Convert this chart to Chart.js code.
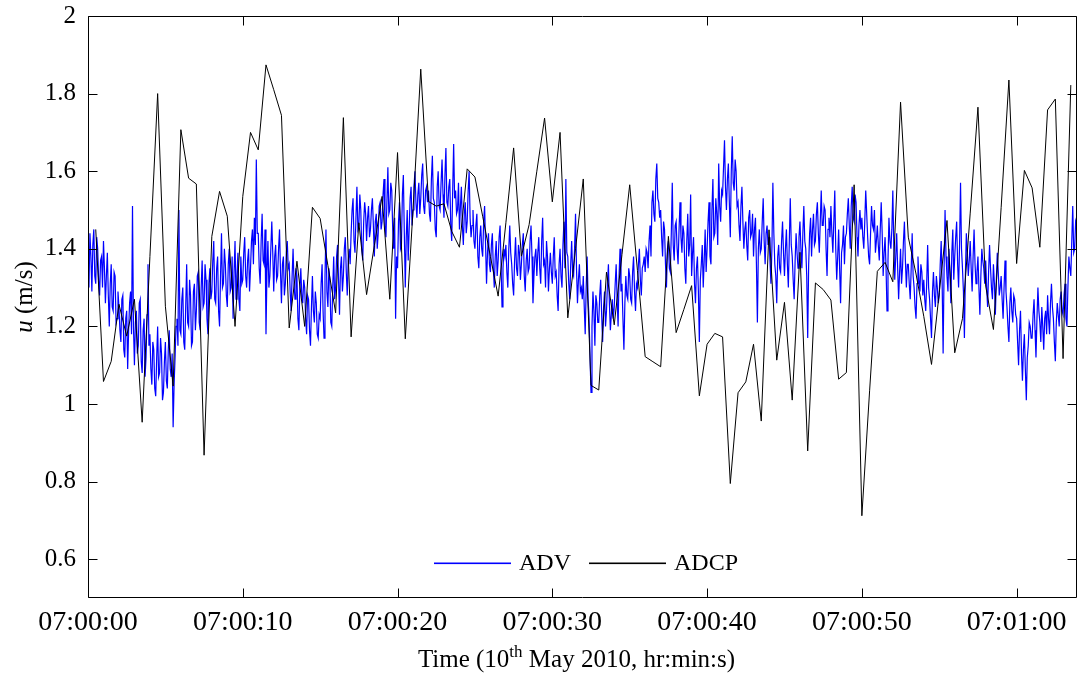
<!DOCTYPE html>
<html>
<head>
<meta charset="utf-8">
<script src="https://cdn.jsdelivr.net/npm/chart.js@4"></script>
<style>
  html, body { margin: 0; padding: 0; background: #fff; }
  canvas { display: block; }
</style>
</head>
<body>
<canvas id="uChart" width="1077" height="678"></canvas>
<script>
"use strict";

// ADCP, 2 Hz, first sample at 07:00:00.5
const adcpStart = 0.5;
const adcpStep = 0.5;
const adcpU = [
  1.45, 1.058, 1.11, 1.257, 1.175, 1.27, 0.953, 1.38, 1.80, 1.252,
  1.046, 1.707, 1.582, 1.567, 0.868, 1.432, 1.548, 1.484, 1.20, 1.535,
  1.70, 1.655, 1.874, 1.81, 1.744, 1.196, 1.368, 1.20, 1.507, 1.478,
  1.357, 1.235, 1.738, 1.173, 1.467, 1.282, 1.408, 1.535, 1.27, 1.648,
  1.168, 1.50, 1.863, 1.522, 1.51, 1.516, 1.445, 1.404, 1.606, 1.585,
  1.484, 1.38, 1.278, 1.467, 1.66, 1.381, 1.462, 1.60, 1.737, 1.521,
  1.70, 1.222, 1.40, 1.58, 1.048, 1.036, 1.34, 1.204, 1.385, 1.565,
  1.344, 1.122, 1.109, 1.096, 1.432, 1.184, 1.244, 1.305, 1.021, 1.154,
  1.182, 1.173, 0.795, 1.029, 1.057, 1.154, 0.956, 1.449, 1.113, 1.262,
  1.01, 1.391, 0.879, 1.312, 1.295, 1.268, 1.064, 1.081, 1.565, 0.712,
  1.034, 1.342, 1.365, 1.315, 1.778, 1.43, 1.335, 1.226, 1.102, 1.287,
  1.473, 1.132, 1.22, 1.492, 1.765, 1.304, 1.192, 1.507, 1.835, 1.362,
  1.602, 1.557, 1.404, 1.758, 1.786, 1.117, 1.822
];

// ADV, 16 values per second (one row per second)
const advStep = 0.0625;
const advU = [
  1.35,1.30,1.44,1.38,1.29,1.41,1.45,1.33,1.31,1.43,1.40,1.32,1.28,1.37,1.38,1.30,
  1.42,1.35,1.26,1.33,1.39,1.28,1.20,1.31,1.36,1.25,1.24,1.34,1.33,1.21,1.22,1.29,
  1.25,1.19,1.16,1.27,1.28,1.14,1.12,1.22,1.24,1.09,1.19,1.26,1.29,1.18,1.51,1.20,
  1.10,1.21,1.24,1.13,1.15,1.26,1.27,1.11,1.08,1.19,1.22,1.07,1.12,1.23,1.36,1.15,
  1.18,1.09,1.05,1.16,1.14,1.04,1.02,1.12,1.20,1.07,1.08,1.17,1.13,1.01,1.03,1.11,
  1.16,1.06,1.04,1.14,1.19,1.09,1.07,1.13,0.94,1.05,1.12,1.20,1.22,1.15,1.50,1.19,
  1.18,1.27,1.30,1.16,1.14,1.25,1.36,1.21,1.20,1.32,1.28,1.15,1.16,1.29,1.31,1.19,
  1.24,1.33,1.34,1.21,1.19,1.30,1.37,1.25,1.26,1.36,1.32,1.22,1.18,1.31,1.35,1.27,
  1.29,1.37,1.42,1.27,1.26,1.35,1.38,1.24,1.20,1.33,1.44,1.30,1.31,1.40,1.36,1.28,
  1.25,1.36,1.40,1.29,1.30,1.38,1.22,1.34,1.42,1.27,1.33,1.39,1.27,1.24,1.38,1.31,
  1.32,1.39,1.43,1.33,1.30,1.37,1.40,1.29,1.35,1.42,1.45,1.36,1.48,1.41,1.63,1.44,
  1.44,1.35,1.31,1.42,1.49,1.37,1.36,1.45,1.18,1.34,1.42,1.30,1.33,1.40,1.47,1.39,
  1.29,1.38,1.41,1.32,1.33,1.40,1.45,1.34,1.26,1.36,1.38,1.28,1.31,1.39,1.42,1.35,
  1.36,1.29,1.24,1.33,1.40,1.31,1.27,1.35,1.33,1.22,1.19,1.30,1.35,1.28,1.26,1.32,
  1.30,1.22,1.18,1.28,1.27,1.19,1.15,1.25,1.33,1.24,1.21,1.29,1.26,1.18,1.17,1.23,
  1.22,1.31,1.36,1.24,1.17,1.33,1.45,1.29,1.25,1.35,1.32,1.21,1.20,1.30,1.38,1.27,
  1.30,1.38,1.41,1.32,1.23,1.35,1.38,1.29,1.33,1.40,1.43,1.34,1.28,1.37,1.40,1.36,
  1.44,1.50,1.53,1.42,1.39,1.48,1.56,1.45,1.46,1.54,1.50,1.40,1.37,1.47,1.52,1.49,
  1.42,1.48,1.51,1.43,1.45,1.50,1.53,1.46,1.38,1.47,1.49,1.40,1.44,1.51,1.52,1.45,
  1.47,1.54,1.58,1.46,1.43,1.52,1.61,1.49,1.50,1.57,1.55,1.45,1.40,1.48,1.22,1.38,
  1.35,1.47,1.52,1.40,1.41,1.54,1.59,1.44,1.30,1.43,1.50,1.37,1.45,1.53,1.56,1.46,
  1.50,1.56,1.60,1.52,1.48,1.54,1.57,1.49,1.53,1.59,1.62,1.51,1.49,1.55,1.56,1.52,
  1.55,1.49,1.47,1.58,1.64,1.53,1.52,1.45,1.43,1.56,1.60,1.51,1.50,1.57,1.63,1.54,
  1.48,1.59,1.66,1.52,1.51,1.56,1.58,1.46,1.42,1.55,1.67,1.53,1.55,1.49,1.50,1.57,
  1.45,1.51,1.56,1.46,1.41,1.49,1.52,1.44,1.47,1.55,1.60,1.48,1.43,1.46,1.50,1.42,
  1.40,1.46,1.49,1.38,1.35,1.43,1.46,1.40,1.38,1.47,1.51,1.41,1.31,1.39,1.44,1.36,
  1.34,1.41,1.44,1.35,1.30,1.38,1.42,1.33,1.37,1.43,1.46,1.36,1.25,1.35,1.40,1.38,
  1.41,1.34,1.30,1.40,1.46,1.39,1.36,1.31,1.28,1.37,1.43,1.35,1.33,1.41,1.39,1.32,
  1.36,1.41,1.44,1.33,1.29,1.37,1.40,1.34,1.35,1.42,1.46,1.38,1.26,1.33,1.38,1.40,
  1.33,1.39,1.43,1.35,1.31,1.42,1.48,1.36,1.37,1.30,1.42,1.38,1.29,1.35,1.39,1.34,
  1.31,1.38,1.43,1.33,1.34,1.28,1.24,1.36,1.40,1.33,1.30,1.41,1.47,1.35,1.58,1.39,
  1.38,1.31,1.27,1.36,1.42,1.34,1.33,1.40,1.49,1.35,1.26,1.32,1.36,1.29,1.30,1.27,
  1.33,1.25,1.18,1.30,1.38,1.27,1.22,1.12,1.03,1.20,1.29,1.24,1.15,1.28,1.26,1.21,
  1.21,1.28,1.32,1.23,1.16,1.25,1.29,1.20,1.24,1.31,1.36,1.26,1.19,1.23,1.27,1.22,
  1.25,1.31,1.36,1.27,1.20,1.33,1.40,1.29,1.31,1.22,1.14,1.26,1.33,1.28,1.27,1.35,
  1.33,1.27,1.26,1.34,1.38,1.29,1.24,1.31,1.30,1.36,1.40,1.32,1.28,1.35,1.36,1.38,
  1.34,1.40,1.39,1.35,1.42,1.46,1.38,1.52,1.55,1.49,1.47,1.58,1.62,1.53,1.52,1.48,
  1.50,1.43,1.38,1.47,1.45,1.36,1.30,1.40,1.42,1.35,1.34,1.44,1.57,1.41,1.37,1.46,
  1.47,1.40,1.36,1.45,1.52,1.43,1.39,1.46,1.44,1.35,1.31,1.42,1.49,1.38,1.41,1.54,
  1.33,1.39,1.43,1.31,1.26,1.35,1.38,1.29,1.16,1.32,1.36,1.41,1.30,1.37,1.45,1.34,
  1.40,1.47,1.52,1.38,1.36,1.50,1.58,1.43,1.44,1.53,1.49,1.41,1.62,1.51,1.47,1.55,
  1.54,1.61,1.68,1.56,1.50,1.58,1.62,1.52,1.43,1.60,1.69,1.57,1.55,1.63,1.60,1.51,
  1.52,1.46,1.42,1.51,1.56,1.47,1.40,1.45,1.47,1.41,1.37,1.48,1.50,1.43,1.44,1.49,
  1.38,1.45,1.48,1.36,1.21,1.40,1.45,1.39,1.40,1.47,1.53,1.42,1.36,1.44,1.46,1.41,
  1.43,1.37,1.31,1.40,1.57,1.44,1.36,1.33,1.26,1.38,1.41,1.35,1.34,1.42,1.47,1.39,
  1.33,1.40,1.45,1.36,1.30,1.42,1.53,1.41,1.38,1.32,1.27,1.37,1.44,1.39,1.35,1.43,
  1.47,1.40,1.35,1.44,1.51,1.42,1.40,1.33,1.17,1.36,1.44,1.48,1.38,1.45,1.49,1.41,
  1.42,1.49,1.52,1.44,1.39,1.47,1.55,1.46,1.46,1.51,1.50,1.40,1.33,1.45,1.48,1.43,
  1.51,1.44,1.39,1.47,1.55,1.40,1.32,1.38,1.45,1.35,1.26,1.39,1.41,1.46,1.36,1.43,
  1.44,1.49,1.53,1.46,1.40,1.51,1.56,1.48,1.47,1.54,1.52,1.43,1.38,1.46,1.50,1.45,
  1.48,1.43,1.40,1.47,1.55,1.49,1.43,1.38,1.36,1.44,1.51,1.46,1.45,1.50,1.39,1.42,
  1.46,1.41,1.37,1.45,1.52,1.44,1.33,1.39,1.43,1.35,1.24,1.37,1.48,1.42,1.40,1.45,
  1.55,1.41,1.32,1.38,1.44,1.35,1.27,1.34,1.40,1.31,1.35,1.42,1.47,1.37,1.30,1.36,
  1.36,1.31,1.27,1.35,1.44,1.33,1.30,1.25,1.22,1.31,1.38,1.32,1.29,1.36,1.34,1.28,
  1.32,1.27,1.24,1.31,1.41,1.30,1.27,1.22,1.17,1.29,1.34,1.28,1.25,1.33,1.30,1.26,
  1.28,1.36,1.42,1.31,1.13,1.35,1.50,1.38,1.33,1.29,1.40,1.34,1.26,1.39,1.45,1.32,
  1.38,1.43,1.47,1.36,1.30,1.41,1.57,1.40,1.35,1.29,1.17,1.33,1.44,1.39,1.33,1.37,
  1.42,1.35,1.29,1.38,1.45,1.36,1.31,1.34,1.38,1.30,1.23,1.33,1.40,1.37,1.35,1.31,
  1.37,1.30,1.25,1.34,1.41,1.35,1.30,1.27,1.36,1.31,1.23,1.32,1.39,1.34,1.28,1.30,
  1.33,1.27,1.22,1.30,1.37,1.29,1.25,1.20,1.16,1.26,1.30,1.24,1.21,1.28,1.27,1.23,
  1.22,1.16,1.10,1.19,1.24,1.13,1.06,1.14,1.18,1.09,1.01,1.12,1.15,1.21,1.20,1.17,
  1.17,1.23,1.27,1.19,1.12,1.22,1.30,1.24,1.21,1.16,1.25,1.20,1.14,1.22,1.24,1.18,
  1.28,1.22,1.18,1.26,1.31,1.25,1.22,1.16,1.11,1.21,1.26,1.23,1.20,1.27,1.29,1.24,
  1.23,1.28,1.31,1.22,1.20,1.30,1.38,1.35,1.33,1.42,1.51,1.39,1.40,1.47,1.46,1.43
];

const xTickSeconds = [0, 10, 20, 30, 40, 50, 60];
const xTickLabels = ["07:00:00", "07:00:10", "07:00:20", "07:00:30", "07:00:40", "07:00:50", "07:01:00"];
const yTickValues = [0.6, 0.8, 1, 1.2, 1.4, 1.6, 1.8, 2];
const yTickLabels = ["0.6", "0.8", "1", "1.2", "1.4", "1.6", "1.8", "2"];
const seriesNames = ["ADV", "ADCP"];
const seriesColors = ["rgb(0, 0, 255)", "rgb(0, 0, 0)"];

const FONT = "'Liberation Serif', 'Times New Roman', serif";
const TICK_LEN = 9;

/**
 * Ram runt ritytan, inåtriktade tickar, legend och axeltitlar (MATLAB-stil).
 */
const matlabFrame = {
  id: "matlabFrame",
  afterDatasetsDraw(chart) {
    const { ctx, chartArea: a, scales: { x, y } } = chart;
    const L = Math.round(a.left) + 0.5, R = Math.round(a.right) - 0.5;
    const T = Math.round(a.top) + 0.5, B = Math.round(a.bottom) - 0.5;

    ctx.save();
    ctx.strokeStyle = "#000";
    ctx.lineWidth = 1;
    ctx.beginPath();
    ctx.rect(L, T, R - L, B - T);
    x.ticks.forEach(t => {
      const px = Math.round(x.getPixelForValue(t.value)) + 0.5;
      ctx.moveTo(px, B); ctx.lineTo(px, B - TICK_LEN);
      ctx.moveTo(px, T); ctx.lineTo(px, T + TICK_LEN);
    });
    y.ticks.forEach(t => {
      const py = Math.round(y.getPixelForValue(t.value)) + 0.5;
      ctx.moveTo(L, py); ctx.lineTo(L + TICK_LEN, py);
      ctx.moveTo(R, py); ctx.lineTo(R - TICK_LEN, py);
    });
    ctx.stroke();

    // legend inne i ritytan, nedtill i mitten
    ctx.font = "24px " + FONT;
    ctx.textBaseline = "middle";
    ctx.textAlign = "left";
    const lineLen = 77, gap = 8, between = 18;
    const widths = seriesNames.map(n => ctx.measureText(n).width);
    const total = widths.reduce((s, w) => s + lineLen + gap + w, 0) + between;
    let lx = Math.round((a.left + a.right) / 2 + 4 - total / 2);
    const ly = Math.round(a.bottom - 35);
    seriesNames.forEach((name, i) => {
      ctx.fillStyle = seriesColors[i];
      ctx.fillRect(lx, ly - 0.5, lineLen, 1.6);
      ctx.fillStyle = "#000";
      ctx.fillText(name, lx + lineLen + gap, ly + 1);
      lx += lineLen + gap + widths[i] + between;
    });

    // x-axeltitel med upphöjt "th"
    ctx.textBaseline = "alphabetic";
    const parts = [["Time (10", 25, 0], ["th", 17, -10], [" May 2010, hr:min:s)", 25, 0]];
    const pw = parts.map(([s, size]) => { ctx.font = size + "px " + FONT; return ctx.measureText(s).width; });
    let tx = (a.left + a.right) / 2 - 6 - pw.reduce((s, w) => s + w, 0) / 2;
    parts.forEach(([s, size, dy], i) => {
      ctx.font = size + "px " + FONT;
      ctx.fillText(s, tx, 667 + dy);
      tx += pw[i];
    });

    // y-axeltitel, kursivt u
    ctx.translate(32, (a.top + a.bottom) / 2 - 10);
    ctx.rotate(-Math.PI / 2);
    ctx.font = "italic 25px " + FONT;
    const uw = ctx.measureText("u").width;
    ctx.font = "25px " + FONT;
    const rw = ctx.measureText(" (m/s)").width;
    ctx.font = "italic 25px " + FONT;
    ctx.fillText("u", -(uw + rw) / 2, 0);
    ctx.font = "25px " + FONT;
    ctx.fillText(" (m/s)", -(uw + rw) / 2 + uw, 0);
    ctx.restore();
  }
};

const canvas = document.getElementById("uChart");

new Chart(canvas, {
  type: "line",
  data: {
    datasets: [
      {
        label: seriesNames[0],
        data: advU.map((u, i) => ({ x: i * advStep, y: u })),
        borderColor: seriesColors[0],
        borderWidth: 1.2,
        pointRadius: 0,
        order: 2
      },
      {
        label: seriesNames[1],
        data: adcpU.map((u, i) => ({ x: adcpStart + i * adcpStep, y: u })),
        borderColor: seriesColors[1],
        borderWidth: 1,
        pointRadius: 0,
        order: 1
      }
    ]
  },
  options: {
    responsive: false,
    devicePixelRatio: 1,
    animation: false,
    layout: { padding: { top: 16, right: 0, bottom: 0, left: 0 } },
    plugins: {
      legend: { display: false },
      tooltip: { enabled: false }
    },
    scales: {
      x: {
        type: "linear",
        min: 0,
        max: 63.9,
        grid: { display: false, drawTicks: false },
        border: { display: false },
        afterBuildTicks: scale => { scale.ticks = xTickSeconds.map(v => ({ value: v })); },
        afterFit: scale => { scale.height = 80; scale.paddingLeft = 0; scale.paddingRight = 0; },
        ticks: {
          callback: value => xTickLabels[xTickSeconds.indexOf(value)],
          color: "#000",
          font: { family: FONT, size: 28 },
          padding: 8,
          maxRotation: 0,
          autoSkip: false
        }
      },
      y: {
        min: 0.5,
        max: 2,
        grid: { display: false, drawTicks: false },
        border: { display: false },
        afterBuildTicks: scale => { scale.ticks = yTickValues.map(v => ({ value: v })); },
        afterFit: scale => { scale.width = 88; scale.paddingTop = 0; scale.paddingBottom = 0; },
        ticks: {
          callback: value => yTickLabels[yTickValues.indexOf(value)],
          color: "#000",
          font: { family: FONT, size: 25 },
          padding: 12
        }
      }
    }
  },
  plugins: [matlabFrame]
});
</script>
</body>
</html>
